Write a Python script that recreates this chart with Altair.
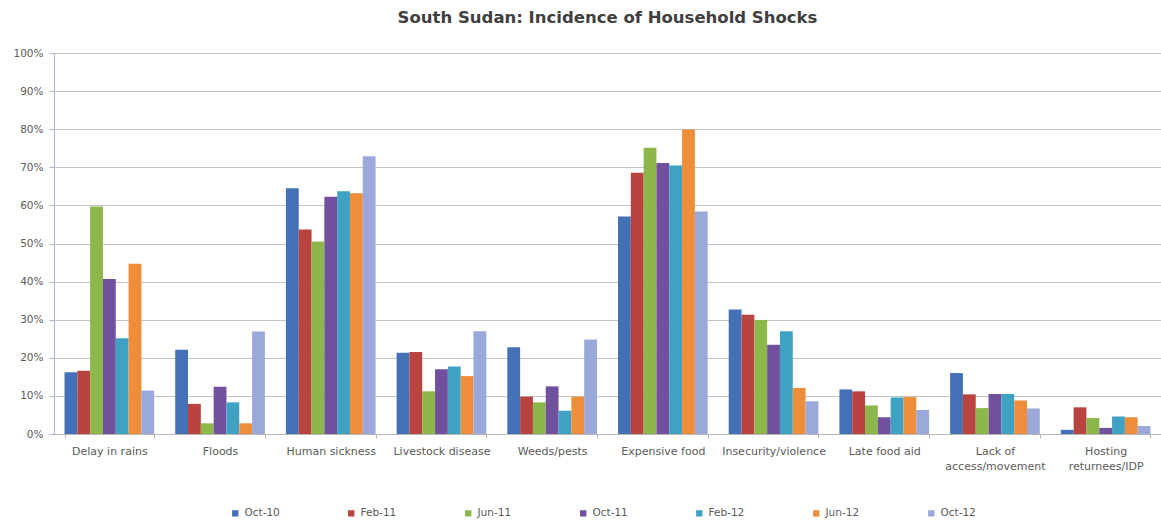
import altair as alt
import pandas as pd

# Shock categories ("|" marks a line break in the axis label)
categories = [
    "Delay in rains", "Floods", "Human sickness", "Livestock disease",
    "Weeds/pests", "Expensive food", "Insecurity/violence", "Late food aid",
    "Lack of|access/movement", "Hosting|returnees/IDP",
]

# Survey rounds
rounds = ["Oct-10", "Feb-11", "Jun-11", "Oct-11", "Feb-12", "Jun-12", "Oct-12"]

# Share of households reporting each shock (%), one list per round
oct_10 = [16.2, 22.1, 64.5, 21.3, 22.8, 57.1, 32.7, 11.7, 16.0, 1.1]
feb_11 = [16.6, 7.9, 53.7, 21.5, 9.8, 68.6, 31.3, 11.2, 10.4, 7.0]
jun_11 = [59.7, 2.8, 50.5, 11.2, 8.3, 75.1, 29.9, 7.5, 6.8, 4.2]
oct_11 = [40.7, 12.4, 62.3, 17.0, 12.5, 71.1, 23.4, 4.4, 10.5, 1.6]
feb_12 = [25.1, 8.3, 63.7, 17.7, 6.1, 70.5, 27.0, 9.6, 10.5, 4.6]
jun_12 = [44.7, 2.8, 63.2, 15.2, 9.8, 79.9, 12.1, 9.7, 8.8, 4.4]
oct_12 = [11.4, 26.9, 72.9, 27.0, 24.8, 58.4, 8.6, 6.3, 6.7, 2.1]

series = [oct_10, feb_11, jun_11, oct_11, feb_12, jun_12, oct_12]
colors = ["#4470B5", "#B9443F", "#8DB64B", "#71509E", "#3FA2C2", "#EE8E3B", "#9AA9DA"]

rows = []
for r, vals in zip(rounds, series):
    for c, v in zip(categories, vals):
        rows.append({"shock": c, "round": r, "pct": v})
df = pd.DataFrame(rows)

FONT = "DejaVu Sans"

bars = alt.Chart(df).mark_bar(stroke=None).encode(
    x=alt.X(
        "shock:N",
        sort=categories,
        title=None,
        scale=alt.Scale(paddingInner=0.19, paddingOuter=0.095),
        axis=alt.Axis(
            labelAngle=0,
            labelExpr="split(datum.label, '|')",
            labelFont=FONT,
            labelFontSize=11,
            labelColor="#5a5a5a",
            labelPadding=7,
            labelLineHeight=15,
            tickBand="extent",
            tickSize=4,
            tickColor="#b8b8b8",
            domainColor="#b8b8b8",
            grid=False,
        ),
    ),
    xOffset=alt.XOffset("round:N", sort=rounds, scale=alt.Scale(paddingInner=0, paddingOuter=0)),
    y=alt.Y(
        "pct:Q",
        title=None,
        scale=alt.Scale(domain=[0, 100], nice=False),
        axis=alt.Axis(
            values=[0, 10, 20, 30, 40, 50, 60, 70, 80, 90, 100],
            labelExpr="datum.value + '%'",
            labelFont=FONT,
            labelFontSize=10.5,
            labelColor="#5a5a5a",
            labelPadding=6,
            tickSize=5,
            tickColor="#a9b6cc",
            domainColor="#a9b6cc",
            gridColor="#c4c4c4",
            gridWidth=1,
        ),
    ),
    color=alt.Color(
        "round:N",
        sort=rounds,
        scale=alt.Scale(domain=rounds, range=colors),
        legend=alt.Legend(
            title=None,
            orient="none",
            legendX=176,
            legendY=455,
            direction="horizontal",
            columns=7,
            symbolType="square",
            symbolSize=40,
            symbolStrokeWidth=0,
            labelFont=FONT,
            labelFontSize=10.5,
            labelColor="#5a5a5a",
            labelOffset=4,
            columnPadding=66,
        ),
    ),
)

chart = bars.properties(
    width=1107,
    height=381,
    title=alt.TitleParams(
        "South Sudan: Incidence of Household Shocks",
        font=FONT,
        fontSize=16.5,
        fontWeight="bold",
        color="#404040",
        anchor="middle",
        offset=22,
    ),
    autosize=alt.AutoSizeParams(type="none"),
    padding={"left": 54, "top": 53, "right": 0, "bottom": 87},
).configure_view(stroke=None).configure(background="white")

chart.save("out.html", embed_options={"renderer": "svg", "actions": False})
